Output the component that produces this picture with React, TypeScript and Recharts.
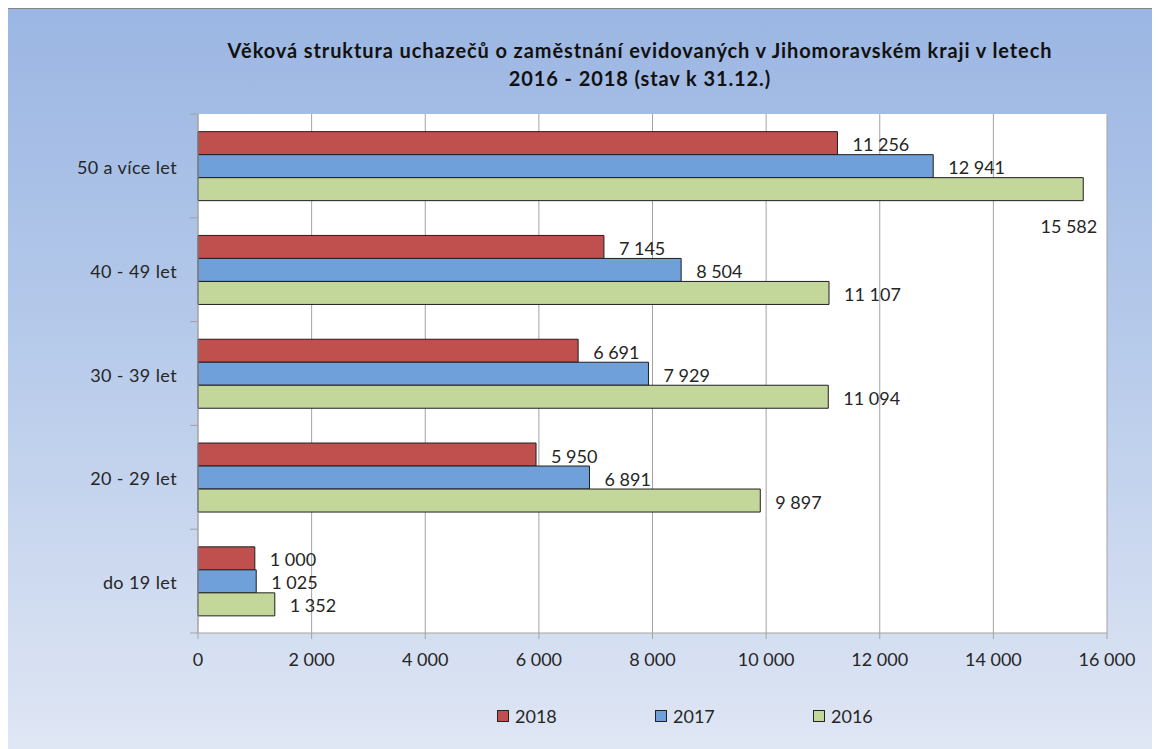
import React from 'react';
import { BarChart, Bar, XAxis, YAxis, CartesianGrid, Legend, LabelList } from 'recharts';

const categories = ['50 a více let', '40 - 49 let', '30 - 39 let', '20 - 29 let', 'do 19 let'];
const seriesNames = ['2018', '2017', '2016'];
const values2018 = [11256, 7145, 6691, 5950, 1000];
const values2017 = [12941, 8504, 7929, 6891, 1025];
const values2016 = [15582, 11107, 11094, 9897, 1352];
const xTicks = [0, 2000, 4000, 6000, 8000, 10000, 12000, 14000, 16000];

const data = categories.map((name, i) => ({
    name,
    y2018: values2018[i],
    y2017: values2017[i],
    y2016: values2016[i],
}));

const CHART_W = 1152;
const CHART_H = 740;
const AXIS_X = 190;
const PLOT_RIGHT = 1099;
const FONT = 'Lato, "Open Sans", sans-serif';
const TEXT = '#262626';
const GRID = '#A3A3A3';

const fmt = (v: number) => String(v).replace(/\B(?=(\d{3})+(?!\d))/g, ' ');

const renderLabel = (props: any) => {
    const { x, y, width, height, value } = props;
    const text = fmt(Number(value));
    const end = Number(x) + Number(width);
    const tw = text.length * 9.6;
    // Excel pushes labels that would leave the plot area below the bar
    if (end + 15 + tw > PLOT_RIGHT) {
        return (
            <text x={end + 14} y={Number(y) + Number(height) + 25} textAnchor="end" dominantBaseline="central"
                fill={TEXT} fontSize={18} fontFamily={FONT}>{text}</text>
        );
    }
    return (
        <text x={end + 15} y={Number(y) + Number(height) / 2 + 1} dominantBaseline="central"
            fill={TEXT} fontSize={18} fontFamily={FONT}>{text}</text>
    );
};

const CategoryTick = (props: any) => {
    const { y, payload, index } = props;
    const half = payload && payload.offset ? payload.offset : 519 / categories.length / 2;
    return (
        <g>
            <text x={AXIS_X - 21} y={y + 1} textAnchor="end" dominantBaseline="central"
                fill={TEXT} fontSize={18} letterSpacing={0.4} fontFamily={FONT}>{payload.value}</text>
            <line x1={AXIS_X - 8} x2={AXIS_X} y1={y - half} y2={y - half} stroke={GRID} />
            {index === categories.length - 1 && (
                <line x1={AXIS_X - 8} x2={AXIS_X} y1={y + half} y2={y + half} stroke={GRID} />
            )}
        </g>
    );
};

const renderLegend = (props: any) => {
    const items = [...(props.payload || [])].sort(
        (a: any, b: any) => seriesNames.indexOf(String(a.value)) - seriesNames.indexOf(String(b.value))
    );
    return (
        <div style={{ position: 'relative', height: 24 }}>
            {items.map((p: any, i: number) => (
                <div key={p.value} style={{ position: 'absolute', left: 489 + i * 158, top: 0, height: 24, display: 'flex', alignItems: 'center' }}>
                    <span style={{ width: 10, height: 10, background: p.color, border: '1px solid #222', display: 'inline-block' }} />
                    <span style={{ marginLeft: 6, fontSize: 18, fontFamily: FONT, color: TEXT }}>{p.value}</span>
                </div>
            ))}
        </div>
    );
};

const App: React.FC = () => {
    return (
        <div style={{
            position: 'relative',
            marginLeft: -2,
            marginTop: -1,
            width: CHART_W,
            height: CHART_H,
            border: '2px solid #858585',
            background: 'linear-gradient(180deg, #9BB6E3 0%, #B6CAEA 45%, #DFE6F4 100%)',
        }}>
            <div style={{
                position: 'absolute', left: 82, width: 1100, top: 27, textAlign: 'center',
                fontFamily: FONT, fontWeight: 700, fontSize: 20, letterSpacing: 0.9, lineHeight: '28px', color: '#111',
            }}>
                <div>Věková struktura uchazečů o zaměstnání evidovaných v Jihomoravském kraji v letech</div>
                <div>2016 - 2018 (stav k 31.12.)</div>
            </div>
            <BarChart
                width={CHART_W}
                height={CHART_H}
                data={data}
                layout="vertical"
                margin={{ top: 105, right: 53, left: 0, bottom: 76 }}
                barCategoryGap="17%"
                barGap={0}
            >
                <CartesianGrid horizontal={false} stroke={GRID} fill="#ffffff" />
                <XAxis
                    type="number"
                    domain={[0, 16000]}
                    ticks={xTicks}
                    tickFormatter={fmt}
                    height={40}
                    stroke={GRID}
                    tickSize={6}
                    tickMargin={14}
                    tick={{ fill: TEXT, fontSize: 18, fontFamily: FONT }}
                />
                <YAxis
                    type="category"
                    dataKey="name"
                    width={AXIS_X}
                    stroke={GRID}
                    tickLine={false}
                    tick={<CategoryTick />}
                />
                <Legend
                    verticalAlign="middle"
                    layout="horizontal"
                    wrapperStyle={{ top: 695, left: 0, width: CHART_W }}
                    content={renderLegend}
                />
                <Bar dataKey="y2018" name="2018" fill="#C0504D" stroke="#1f1f1f" strokeWidth={1} isAnimationActive={false}>
                    <LabelList dataKey="y2018" content={renderLabel} />
                </Bar>
                <Bar dataKey="y2017" name="2017" fill="#70A0DA" stroke="#1f1f1f" strokeWidth={1} isAnimationActive={false}>
                    <LabelList dataKey="y2017" content={renderLabel} />
                </Bar>
                <Bar dataKey="y2016" name="2016" fill="#C4D79B" stroke="#1f1f1f" strokeWidth={1} isAnimationActive={false}>
                    <LabelList dataKey="y2016" content={renderLabel} />
                </Bar>
            </BarChart>
        </div>
    );
};

export default App;
